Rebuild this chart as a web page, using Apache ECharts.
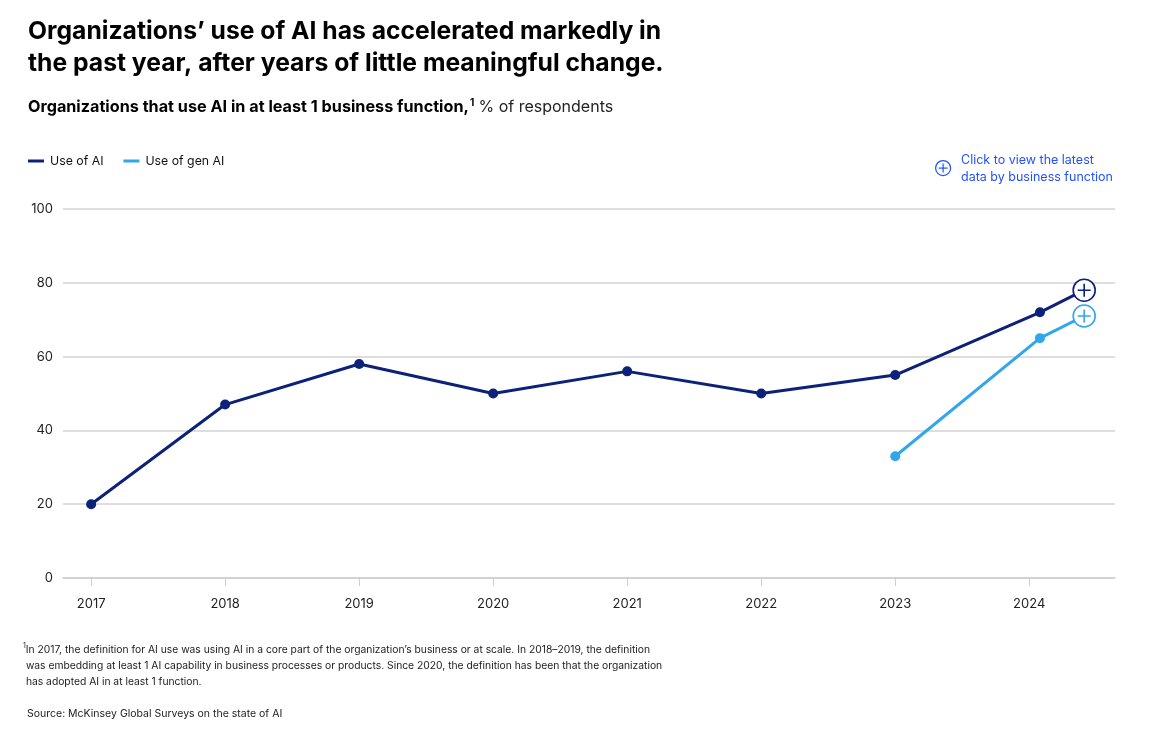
<!DOCTYPE html>
<html>
<head>
<meta charset="utf-8">
<script src="https://cdn.jsdelivr.net/npm/echarts@6/dist/echarts.min.js"></script>
<style>
  html, body { margin: 0; padding: 0; background: #fff; }
  #main { width: 1164px; height: 729px; }
</style>
</head>
<body>
<div id="main"></div>
<script>
// survey waves (2024 had two: early 2024 and the latest wave)
var aiX = [2017, 2018, 2019, 2020, 2021, 2022, 2023, 2024.08, 2024.41];
var aiY = [20, 47, 58, 50, 56, 50, 55, 72, 78];
var genX = [2023, 2024.08, 2024.41];
var genY = [33, 65, 71];
var yearTicks = [2017, 2018, 2019, 2020, 2021, 2022, 2023, 2024];
var yTicks = [0, 20, 40, 60, 80, 100];

var NAVY = '#0c217a';
var SKY = '#31a6ea';
var LINK = '#2251ff';
var FONT = 'Inter, "Liberation Sans", sans-serif';
var plusPath = 'path://M0,-11A11,11,0,1,1,0,11A11,11,0,1,1,0,-11ZM0,-6.5L0,6.5M-6.5,0L6.5,0';

function buildData(xs, ys, color) {
  return xs.map(function (x, i) {
    var item = { value: [x, ys[i]] };
    if (i === xs.length - 1) {
      item.symbol = plusPath;
      item.symbolSize = 22;
      item.itemStyle = { color: '#fff', borderColor: color, borderWidth: 1.6 };
    }
    return item;
  });
}

var myChart = echarts.init(document.getElementById('main'));
var option = {
  backgroundColor: '#fff',
  animation: false,
  textStyle: { fontFamily: FONT },
  title: [
    {
      text: 'Organizations\u2019 use of AI has accelerated markedly in\nthe past year, after years of little meaningful change.',
      left: 28, top: 16, padding: 0,
      textStyle: { fontSize: 24.7, fontWeight: 'bold', color: '#000', lineHeight: 32, fontFamily: FONT }
    },
    {
      text: '{b|Organizations that use AI in at least 1 business function,}{s|1} {n|% of respondents}',
      left: 28, top: 98, padding: 0,
      textStyle: {
        rich: {
          b: { fontSize: 16.2, fontWeight: 'bold', color: '#000', fontFamily: FONT },
          s: { fontSize: 10, fontWeight: 'bold', color: '#000', verticalAlign: 'top', padding: [0, 0, 8, 1], fontFamily: FONT },
          n: { fontSize: 16, fontWeight: 'normal', color: '#222', fontFamily: FONT }
        }
      }
    }
  ],
  legend: {
    left: 23, top: 150,
    icon: 'rect',
    itemWidth: 16, itemHeight: 3,
    itemGap: 20,
    data: [
      { name: 'Use of AI', icon: 'rect' },
      { name: 'Use of gen AI', icon: 'rect' }
    ],
    textStyle: { fontSize: 12.3, color: '#111', fontFamily: FONT, padding: [0, 0, 0, 1] }
  },
  grid: { left: 63, right: 49, top: 209, bottom: 151 },
  xAxis: {
    type: 'value',
    min: 2016.79,
    max: 2024.64,
    axisLine: { show: true, lineStyle: { color: '#cfcfcf', width: 1.5 } },
    axisTick: { show: true, customValues: yearTicks, length: 8, lineStyle: { color: '#cfcfcf' } },
    axisLabel: {
      customValues: yearTicks,
      margin: 20,
      fontSize: 13, color: '#222', fontFamily: FONT,
      formatter: function (v) { return String(Math.round(v)); }
    },
    splitLine: { show: false }
  },
  yAxis: {
    type: 'value',
    min: 0, max: 100, interval: 20,
    axisLine: { show: false },
    axisTick: { show: false },
    axisLabel: {
      margin: 10, fontSize: 13, color: '#222', fontFamily: FONT,
      customValues: yTicks
    },
    splitLine: { show: true, lineStyle: { color: '#d3d3d3', width: 1.5 } }
  },
  series: [
    {
      name: 'Use of AI',
      type: 'line',
      data: buildData(aiX, aiY, NAVY),
      symbol: 'circle',
      symbolSize: 10,
      color: NAVY,
      lineStyle: { color: NAVY, width: 3 },
      itemStyle: { color: NAVY },
      z: 3
    },
    {
      name: 'Use of gen AI',
      type: 'line',
      data: buildData(genX, genY, SKY),
      symbol: 'circle',
      symbolSize: 10,
      color: SKY,
      lineStyle: { color: SKY, width: 3 },
      itemStyle: { color: SKY },
      z: 4
    }
  ],
  graphic: [
    {
      type: 'group',
      left: 935, top: 160,
      children: [
        { type: 'circle', shape: { cx: 8, cy: 8, r: 7.5 }, style: { fill: '#fff', stroke: LINK, lineWidth: 1.2 } },
        { type: 'line', shape: { x1: 8, y1: 3.5, x2: 8, y2: 12.5 }, style: { stroke: LINK, lineWidth: 1.2 } },
        { type: 'line', shape: { x1: 3.5, y1: 8, x2: 12.5, y2: 8 }, style: { stroke: LINK, lineWidth: 1.2 } }
      ]
    },
    {
      type: 'text',
      left: 961, top: 152,
      style: {
        text: 'Click to view the latest\ndata by business function',
        fill: LINK, fontSize: 12.5, lineHeight: 17, fontFamily: FONT
      }
    },
    {
      type: 'text',
      left: 23, top: 642,
      style: {
        text: '{s|1}In 2017, the definition for AI use was using AI in a core part of the organization\u2019s business or at scale. In 2018\u20132019, the definition\n was embedding at least 1 AI capability in business processes or products. Since 2020, the definition has been that the organization\n has adopted AI in at least 1 function.',
        fill: '#222', fontSize: 10.3, lineHeight: 16, fontFamily: FONT,
        rich: {
          s: { fontSize: 7, verticalAlign: 'top', fill: '#222', fontFamily: FONT }
        }
      }
    },
    {
      type: 'text',
      left: 27, top: 708,
      style: { text: 'Source: McKinsey Global Surveys on the state of AI', fill: '#222', fontSize: 10.5, fontFamily: FONT }
    }
  ]
};
myChart.setOption(option);
</script>
</body>
</html>
